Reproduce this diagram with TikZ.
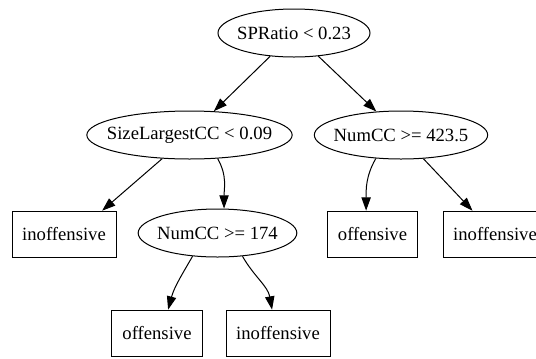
\documentclass[tikz,border=0pt]{standalone}
\usepackage{fontspec}
\setmainfont{Liberation Serif}
\usetikzlibrary{shapes.geometric,arrows.meta}
\tikzset{
  split/.style={draw, ellipse, line width=0.75pt, inner xsep=-40pt, inner ysep=0pt, minimum height=36pt, font=\fontsize{14}{16}\selectfont},
  leaf/.style={draw, rectangle, line width=0.75pt, inner sep=0pt, minimum height=35pt, font=\fontsize{14}{16}\selectfont},
  edgearrow/.style={-{Triangle[length=10pt,width=7pt]}, line width=0.75pt}
}

\begin{document}
\begin{tikzpicture}[x=0.75pt, y=0.75pt]
  \useasboundingbox (0,0) rectangle (536,-358);

  % ---------- splits ----------
  \node[split, minimum width=114pt] (root) at (294,-33) {SPRatio < 0.23};
  \node[split, minimum width=154pt] (slcc) at (189.5,-135) {SizeLargestCC < 0.09};
  \node[split, minimum width=130pt] (numa) at (401,-135) {NumCC >= 423.5};
  \node[split, minimum width=119pt] (numb) at (217.5,-233) {NumCC >= 174};

  % ---------- leaves ----------
  \node[leaf, minimum width=78pt] (inoffl) at (64,-234.5) {inoffensive};
  \node[leaf, minimum width=68pt] (offr) at (372.5,-234.5) {offensive};
  \node[leaf, minimum width=78pt] (inoffr) at (495,-234.5) {inoffensive};
  \node[leaf, minimum width=68pt] (offb) at (157,-333.5) {offensive};
  \node[leaf, minimum width=78pt] (inoffb) at (278,-333.5) {inoffensive};

  % ---------- edges ----------
  \draw[edgearrow] (root) -- (slcc);
  \draw[edgearrow] (root) -- (numa);
  \draw[edgearrow] (slcc) -- (inoffl.32);
  \draw[edgearrow] (slcc.-40) to[out=-60, in=90] (numb.75);
  \draw[edgearrow] (numa.-137) to[out=-120, in=90] (offr.105);
  \draw[edgearrow] (numa) -- (inoffr);
  \draw[edgearrow] (numb.-137) to[out=-120, in=75] (offb.65);
  \draw[edgearrow] (numb.-43) to[out=-60, in=100] (inoffb.104);
\end{tikzpicture}
\end{document}
